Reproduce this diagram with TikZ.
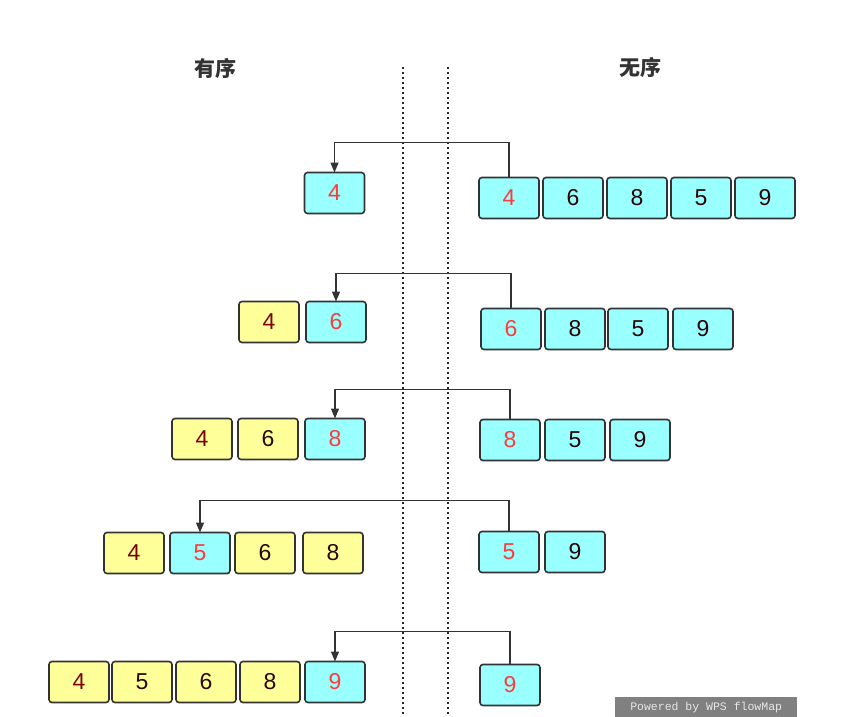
\documentclass[tikz,border=0pt]{standalone}
\usepackage{fontspec}
\setmainfont{Liberation Sans}
\newfontfamily\cjkfont{Noto Sans CJK SC}
\newfontfamily\wmfont{Liberation Mono}
\usetikzlibrary{arrows.meta,positioning}
\definecolor{doneyellow}{HTML}{FFFF99}
\definecolor{todocyan}{HTML}{99FFFF}
\definecolor{boxline}{HTML}{333333}
\definecolor{pickred}{HTML}{FF3B3B}
\definecolor{numdark}{HTML}{2A0606}
\definecolor{numbrown}{HTML}{7A0000}
\definecolor{wmgray}{HTML}{808080}
\definecolor{wmtext}{HTML}{E6E6E6}

\begin{document}
\begin{tikzpicture}[
    x=1pt, y=-1pt,
    box/.style={rectangle, rounded corners=3pt, draw=boxline, line width=1.6pt, minimum width=60pt, minimum height=41pt, inner sep=0pt, outer sep=0pt, font=\fontsize{23}{23}\selectfont},
    done/.style={box, fill=doneyellow, text=numdark},
    todo/.style={box, fill=todocyan, text=numdark},
    pick/.style={text=pickred},
    link/.style={draw=boxline, line width=1.4pt, -{Triangle[width=8pt,length=10pt]}},
    title/.style={font=\cjkfont\bfseries\fontsize{21}{21}\selectfont, text=boxline},
    sep/.style={draw=black!85, line width=1.3pt, dash pattern=on 1.8pt off 3.2pt}
]
    \useasboundingbox (0,0) rectangle (849,717);

    % Titles
    \node[title] (ordtitle) at (215,68) {有序};
    \node[title] (unotitle) at (640,67) {无序};

    % Dividers
    \draw[sep] (403,67) -- (403,717);
    \draw[sep] (448,67) -- (448,717);

    % Round 1
    \node[todo, pick] (a1) at (334.5,193) {4};
    \node[todo, pick] (ua1) at (509,198) {4};
    \node[todo, right=4pt of ua1] (ua2) {6};
    \node[todo, right=4pt of ua2] (ua3) {8};
    \node[todo, right=4pt of ua3] (ua4) {5};
    \node[todo, right=4pt of ua4] (ua5) {9};
    \draw[link] (ua1.north) -- ++(0,-35) -| (a1.north);

    % Round 2
    \node[done, text=numbrown] (b1) at (269,322) {4};
    \node[todo, pick, right=7pt of b1] (b2) {6};
    \node[todo, pick] (ub1) at (511,329) {6};
    \node[todo, right=4pt of ub1] (ub2) {8};
    \node[todo, right=3pt of ub2] (ub3) {5};
    \node[todo, right=5pt of ub3] (ub4) {9};
    \draw[link] (ub1.north) -- ++(0,-35) -| (b2.north);

    % Round 3
    \node[done, text=numbrown] (c1) at (202,439) {4};
    \node[done, right=6pt of c1] (c2) {6};
    \node[todo, pick, right=7pt of c2] (c3) {8};
    \node[todo, pick] (uc1) at (510,440) {8};
    \node[todo, right=5pt of uc1] (uc2) {5};
    \node[todo, right=5pt of uc2] (uc3) {9};
    \draw[link] (uc1.north) -- ++(0,-30) -| (c3.north);

    % Round 4
    \node[done, text=numbrown] (d1) at (134,553) {4};
    \node[todo, pick, right=6pt of d1] (d2) {5};
    \node[done, right=5pt of d2] (d3) {6};
    \node[done, right=8pt of d3] (d4) {8};
    \node[todo, pick] (ud1) at (509,552) {5};
    \node[todo, right=6pt of ud1] (ud2) {9};
    \draw[link] (ud1.north) -- ++(0,-31) -| (d2.north);

    % Round 5
    \node[done, text=numbrown] (e1) at (79,682) {4};
    \node[done, right=3pt of e1] (e2) {5};
    \node[done, right=4pt of e2] (e3) {6};
    \node[done, right=4pt of e3] (e4) {8};
    \node[todo, pick, right=5pt of e4] (e5) {9};
    \node[todo, pick] (ue1) at (510,685) {9};
    \draw[link] (ue1.north) -- ++(0,-33) -| (e5.north);

    % Watermark
    \node[fill=wmgray, text=wmtext, font=\wmfont\fontsize{11.5}{12}\selectfont, minimum width=182pt, minimum height=21pt, inner sep=0pt, anchor=north west] (wm) at (615,697) {Powered by WPS flowMap};
\end{tikzpicture}
\end{document}
